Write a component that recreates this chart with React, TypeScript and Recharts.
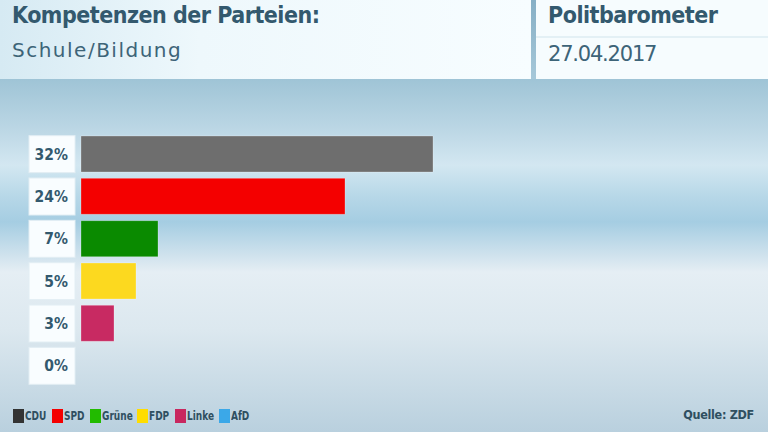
import React from 'react';
import { BarChart, Bar, XAxis, YAxis, Cell } from 'recharts';

const parties = ['CDU', 'SPD', 'Grüne', 'FDP', 'Linke', 'AfD'];
const values = [32, 24, 7, 5, 3, 0];
const barColors = ['#6e6e6e', '#f40000', '#0a8a00', '#fcd91f', '#c82a62', '#3ba8e8'];
const legendColors = ['#333333', '#f40000', '#22bb00', '#ffdd00', '#c8285f', '#3ba8e8'];
const legendX = [13, 52, 90, 137, 175, 219];

const title = 'Kompetenzen der Parteien:';
const subtitle = 'Schule/Bildung';
const brand = 'Politbarometer';
const dateText = '27.04.2017';
const source = 'Quelle: ZDF';

const data = parties.map((p, i) => ({ party: p, value: values[i] }));

const FONT = '"DejaVu Sans Condensed", "DejaVu Sans", sans-serif';
const FONT_REG = '"DejaVu Sans", sans-serif';
const TEXT = '#33596e';

const LabelTick = (props: any) => {
  const { y, payload } = props;
  const v = values[payload.index];
  return (
    <g>
      <rect x={29} y={y - 18.5} width={46} height={37} fill="#f9fdff" stroke="#e2eef4" strokeWidth={1} />
      <text x={68} y={y + 5.5} textAnchor="end" fontFamily={FONT} fontWeight="bold" fontSize={15.5} fill={TEXT}>
        {v + '%'}
      </text>
    </g>
  );
};

export default function App() {
  return (
    <div
      style={{
        position: 'absolute',
        left: 0,
        top: 0,
        width: 768,
        height: 432,
        overflow: 'hidden',
        fontFamily: FONT,
        background:
          'linear-gradient(to bottom, #9fc4d6 79px, #bcd7e5 130px, #d3e7f1 165px, #b8d8e8 195px, #a5cde2 222px, #cfe2ed 255px, #e5eef4 272px, #dce8ef 330px, #b9d0de 432px)',
      }}
    >
      {/* header */}
      <div
        style={{
          position: 'absolute',
          left: 0,
          top: 0,
          width: 531,
          height: 79,
          background: 'linear-gradient(to right, #d6eaf3 0px, #eef8fc 200px, #f7fdff 531px)',
        }}
      />
      <div
        style={{
          position: 'absolute',
          left: 531,
          top: 0,
          width: 5,
          height: 79,
          background: 'linear-gradient(to bottom, #86afc5, #a6c8d9)',
        }}
      />
      <div style={{ position: 'absolute', left: 536, top: 0, width: 232, height: 79, background: '#f6fcfe' }} />
      <div style={{ position: 'absolute', left: 536, top: 36, width: 232, height: 2, background: '#e3f0f5' }} />
      <div
        style={{
          position: 'absolute',
          left: 12,
          top: 2,
          fontSize: 23,
          fontWeight: 'bold',
          letterSpacing: -0.5,
          color: '#33596e',
          whiteSpace: 'nowrap',
        }}
      >
        {title}
      </div>
      <div
        style={{
          position: 'absolute',
          left: 12,
          top: 38,
          fontFamily: FONT_REG,
          fontSize: 20,
          letterSpacing: 1.5,
          color: '#3d6478',
          whiteSpace: 'nowrap',
        }}
      >
        {subtitle}
      </div>
      <div
        style={{
          position: 'absolute',
          left: 548,
          top: 2,
          fontSize: 23,
          fontWeight: 'bold',
          letterSpacing: -0.5,
          color: '#33596e',
          whiteSpace: 'nowrap',
        }}
      >
        {brand}
      </div>
      <div
        style={{
          position: 'absolute',
          left: 548,
          top: 42,
          fontFamily: FONT_REG,
          fontSize: 21,
          letterSpacing: -1.2,
          color: '#3d6478',
          whiteSpace: 'nowrap',
        }}
      >
        {dateText}
      </div>

      {/* chart */}
      <div style={{ position: 'absolute', left: 0, top: 0 }}>
        <BarChart
          width={768}
          height={432}
          data={data}
          layout="vertical"
          margin={{ top: 133, right: 27, bottom: 45, left: 0 }}
          barSize={36}
        >
          <XAxis type="number" domain={[0, 60]} hide />
          <YAxis
            type="category"
            dataKey="party"
            width={81}
            axisLine={false}
            tickLine={false}
            tick={<LabelTick />}
            interval={0}
          />
          <Bar dataKey="value" isAnimationActive={false} stroke="rgba(255,255,255,0.25)" strokeWidth={1}>
            {data.map((d, i) => (
              <Cell key={d.party} fill={barColors[i]} />
            ))}
          </Bar>
        </BarChart>
      </div>

      {/* legend */}
      {parties.map((p, i) => (
        <div
          key={p}
          style={{
            position: 'absolute',
            left: legendX[i],
            top: 408,
            display: 'flex',
            alignItems: 'center',
            fontSize: 12.5,
            fontWeight: 'bold',
            color: '#2f4f60',
            whiteSpace: 'nowrap',
          }}
        >
          <div style={{ width: 11, height: 14, background: legendColors[i], marginRight: 1 }} />
          <span style={{ display: 'inline-block', transform: 'scaleX(0.8)', transformOrigin: 'left center' }}>{p}</span>
        </div>
      ))}
      <div
        style={{
          position: 'absolute',
          right: 14,
          top: 407,
          fontSize: 12.5,
          fontWeight: 'bold',
          letterSpacing: -0.3,
          color: '#2f4f60',
        }}
      >
        {source}
      </div>
    </div>
  );
}
